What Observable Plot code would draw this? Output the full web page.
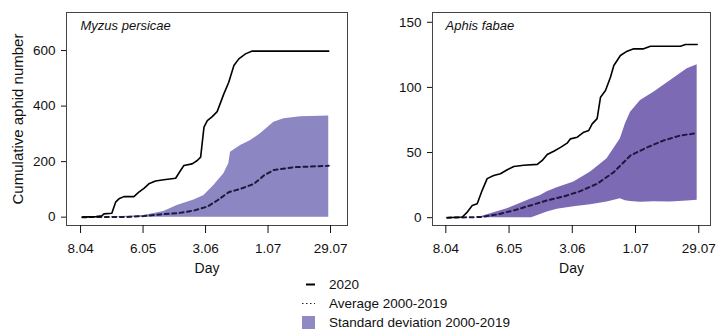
<!DOCTYPE html>
<html><head><meta charset="utf-8">
<script src="https://cdn.jsdelivr.net/npm/d3@7"></script>
<script src="https://cdn.jsdelivr.net/npm/@observablehq/plot@0.6"></script>
<style>
body{margin:0;background:#fff;font-family:"Liberation Sans",Arial,sans-serif;}
#wrap{position:relative;width:716px;height:334px;overflow:hidden;background:#fff;}
.panel{position:absolute;top:0;}
#legend{position:absolute;left:300px;top:274.5px;font-size:13.5px;color:#111;}
#legend .row{display:flex;align-items:center;height:19px;}
#legend svg{display:block;}
</style></head>
<body>
<div id="wrap"><div id="p1" class="panel" style="left:0"></div><div id="p2" class="panel" style="left:360px"></div><div id="legend"></div></div>
<script>
// x values are days since 8 April
const tickDays = [0, 28, 56, 84, 112];
const tickLabels = ["8.04", "6.05", "3.06", "1.07", "29.07"];
const legendLabels = ["2020", "Average 2000-2019", "Standard deviation 2000-2019"];

// Myzus persicae
const myzusCurDays = [0.8, 7, 9.5, 10.5, 14, 15.7, 17.2, 19.4, 23.9, 26.1, 28.4, 30.6, 33.6, 37.3, 42.6, 44.8, 46.3, 50, 52.3, 53.8, 55.3, 56.8, 59, 61.2, 64.2, 66.4, 68.7, 70.9, 73.9, 76.9, 111.2];
const myzusCur = [0, 2, 5, 12, 14, 54, 66, 74, 74, 90, 104, 120, 130, 135, 140, 168, 186, 192, 204, 216, 324, 348, 362, 380, 444, 486, 546, 570, 588, 598, 598];
const myzusAvgDays = [0.8, 21, 28.4, 35.8, 43.3, 50.8, 56.8, 61.2, 66.4, 71.7, 77.7, 82.1, 86.6, 95.6, 111.2];
const myzusAvg = [0, 1, 4, 10, 14, 24, 38, 60, 90, 102, 120, 150, 170, 180, 185];
const myzusSdDays = [0.8, 14, 21, 28.4, 37.3, 43.3, 50.8, 55.3, 59.7, 64.2, 66.4, 67.2, 71.7, 76.2, 80.6, 86.6, 91.1, 98.6, 111.2];
const myzusSdHi = [0, 1, 3, 6, 20, 42, 62, 78, 114, 156, 192, 234, 258, 276, 300, 342, 354, 362, 364];
const myzusSdLo = [0, 0, 0, 0, 0, 0, 0, 0, 0, 0, 0, 0, 0, 0, 0, 0, 0, 0, 0];

// Aphis fabae
const aphisCurDays = [0.6, 7.3, 9.5, 11.7, 13.9, 16.1, 18.3, 21.2, 24.2, 27.2, 30.1, 34.5, 40.5, 42.7, 44.9, 47.8, 50.8, 53.7, 55.2, 58.2, 61.1, 63.3, 64.8, 67, 68.5, 70.7, 72.9, 74.4, 77.3, 80.3, 83.2, 87.6, 90.6, 103.9, 106.1, 111.3];
const aphisCur = [0, 0.5, 4.3, 9.4, 10.7, 21, 30, 32.4, 33.7, 36.8, 39.3, 40.2, 40.9, 43.9, 48.5, 51, 54, 57.2, 60.5, 61.8, 65.6, 67, 72, 76, 92.5, 97.6, 107.8, 116.8, 124.5, 127.8, 129.6, 129.6, 131.6, 131.6, 132.9, 132.9];
const aphisAvgDays = [0.6, 15.4, 22.8, 30.1, 37.5, 44.9, 52.2, 59.6, 67, 74.4, 81.8, 89.2, 96.5, 103.9, 111.3];
const aphisAvg = [0, 0.5, 2.5, 5.6, 9.4, 13.3, 16.3, 20.4, 26, 35, 47.8, 54, 59.3, 63.1, 64.9];
const aphisSdDays = [14, 19.8, 27.2, 34.5, 38, 41.9, 44.9, 49.3, 56.7, 64.1, 71.4, 77.3, 79.5, 81.8, 86.2, 92.1, 99.5, 106.9, 111.3];
const aphisSdHi = [0, 3, 6.9, 12, 14.5, 17, 20, 23, 27.3, 35, 45.2, 60.6, 72, 81, 90, 96.3, 105.3, 114.3, 117.3];
const aphisSdLo = [0, 0, 0, 0, 0, 2.5, 4.3, 6.5, 8.3, 10, 12, 14.6, 13, 12.5, 11.9, 12.3, 12, 12.8, 13.3];

const FONT = "Liberation Sans, Arial, sans-serif";

function panel(o) {
  const band = o.sdDays.map((d, i) => ({x: d, lo: o.sdLo[i], hi: o.sdHi[i]}));
  const avg = o.avgDays.map((d, i) => ({x: d, y: o.avg[i]}));
  const cur = o.curDays.map((d, i) => ({x: d, y: o.cur[i]}));
  const marks = [
    Plot.areaY(band, {x: "x", y1: "lo", y2: "hi", fill: o.fill}),
    Plot.lineY(avg, {x: "x", y: "y", stroke: "#1c1a3c", strokeWidth: 2, strokeDasharray: "4,3.5"}),
    Plot.lineY(cur, {x: "x", y: "y", stroke: "#000", strokeWidth: 1.6}),
    Plot.frame({stroke: "#444", strokeWidth: 1}),
    Plot.axisX({ticks: tickDays, tickFormat: d => tickLabels[tickDays.indexOf(d)], tickSize: 8, tickPadding: 10, label: null, fontSize: 13.5}),
    Plot.axisY({ticks: o.yTicks, tickSize: 5, tickPadding: 6, label: null, fontSize: 13.5}),
    Plot.text([o.title], {frameAnchor: "top-left", textAnchor: "start", lineAnchor: "middle", dx: o.titleDx, dy: 13, fontStyle: "italic", fontSize: 13}),
    Plot.text(["Day"], {frameAnchor: "bottom", lineAnchor: "middle", dy: 43, fontSize: 14})
  ];
  if (o.ylabel) marks.push(Plot.text([o.ylabel], {frameAnchor: "left", rotate: -90, textAnchor: "middle", lineAnchor: "middle", dx: -48, fontSize: 15}));
  return Plot.plot({
    width: o.width, height: 290,
    marginLeft: o.marginLeft, marginRight: o.marginRight, marginTop: 12, marginBottom: 65,
    x: {domain: o.xDomain},
    y: {domain: o.yDomain},
    style: {fontFamily: FONT, color: "#111", overflow: "visible", background: "transparent"},
    marks
  });
}

document.getElementById("p1").appendChild(panel({
  width: 360, marginLeft: 66, marginRight: 13,
  xDomain: [-6.3, 119.6], yDomain: [-30, 737], yTicks: [0, 200, 400, 600],
  title: "Myzus persicae", titleDx: 14, ylabel: "Cumulative aphid number",
  fill: "#8c86c2",
  curDays: myzusCurDays, cur: myzusCur, avgDays: myzusAvgDays, avg: myzusAvg,
  sdDays: myzusSdDays, sdHi: myzusSdHi, sdLo: myzusSdLo
}));
document.getElementById("p2").appendChild(panel({
  width: 356, marginLeft: 72, marginRight: 6,
  xDomain: [-5.9, 117.2], yDomain: [-6, 157.5], yTicks: [0, 50, 100, 150],
  title: "Aphis fabae", titleDx: 13, ylabel: null,
  fill: "#7c6ab4",
  curDays: aphisCurDays, cur: aphisCur, avgDays: aphisAvgDays, avg: aphisAvg,
  sdDays: aphisSdDays, sdHi: aphisSdHi, sdLo: aphisSdLo
}));

// legend
const swatches = [
  '<line x1="6" x2="15" y1="9.5" y2="9.5" stroke="#000" stroke-width="2"/>',
  '<line x1="2" x2="15" y1="9.5" y2="9.5" stroke="#222" stroke-width="1.2" stroke-dasharray="1.5,2.5"/>',
  '<rect x="2" y="3" width="13" height="13" fill="#8f89c4"/>'
];
const leg = document.getElementById("legend");
legendLabels.forEach((t, i) => {
  const row = document.createElement("div");
  row.className = "row";
  row.innerHTML = `<svg width="29" height="19">${swatches[i]}</svg><span>${t}</span>`;
  leg.appendChild(row);
});
</script>
</body></html>
